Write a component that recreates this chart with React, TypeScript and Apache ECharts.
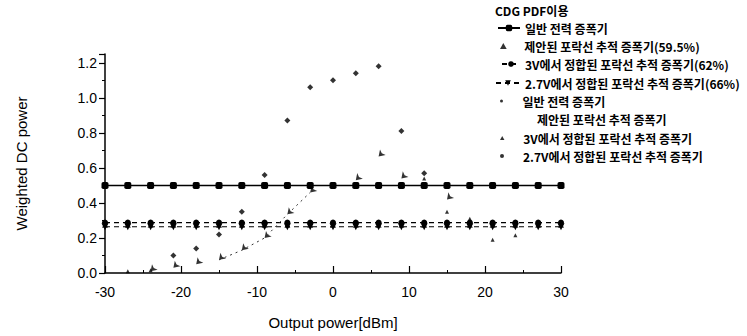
import React, { useEffect, useRef } from "react";
import * as echarts from "echarts";

const xSteps = [-30, -27, -24, -21, -18, -15, -12, -9, -6, -3, 0, 3, 6, 9, 12, 15, 18, 21, 24, 27, 30];
const generalLine = [0.5, 0.5, 0.5, 0.5, 0.5, 0.5, 0.5, 0.5, 0.5, 0.5, 0.5, 0.5, 0.5, 0.5, 0.5, 0.5, 0.5, 0.5, 0.5, 0.5, 0.5];
const proposedLine = [0.276, 0.276, 0.276, 0.276, 0.276, 0.276, 0.276, 0.276, 0.276, 0.276, 0.276, 0.276, 0.276, 0.276, 0.276, 0.276, 0.276, 0.276, 0.276, 0.276, 0.276];
const v3Line = [0.288, 0.288, 0.288, 0.288, 0.288, 0.288, 0.288, 0.288, 0.288, 0.288, 0.288, 0.288, 0.288, 0.288, 0.288, 0.288, 0.288, 0.288, 0.288, 0.288, 0.288];
const v27Line = [0.264, 0.264, 0.264, 0.264, 0.264, 0.264, 0.264, 0.264, 0.264, 0.264, 0.264, 0.264, 0.264, 0.264, 0.264, 0.264, 0.264, 0.264, 0.264, 0.264, 0.264];

const generalScatterX = [-21, -18, -15, -12, -9, -6, -3, 0, 3, 6, 9, 12];
const generalScatterY = [0.1, 0.14, 0.22, 0.35, 0.56, 0.87, 1.06, 1.1, 1.14, 1.18, 0.81, 0.57];
const proposedTrailX = [-15, -12, -9, -6, -3];
const proposedTrailY = [0.075, 0.13, 0.2, 0.335, 0.46];
const v3ScatterX = [-27, -24, 12, 15, 18, 21, 24];
const v3ScatterY = [0.01, 0.015, 0.54, 0.35, 0.31, 0.19, 0.215];
const v27ScatterX = [-24, -21, -18, -15, -12, -9, -6, -3, 3, 6, 9, 15];
const v27ScatterY = [0.01, 0.03, 0.05, 0.075, 0.13, 0.2, 0.335, 0.46, 0.53, 0.665, 0.54, 0.42];

const legendTitle = "CDG PDF이용";
const names = [
  "일반 전력 증폭기",
  "제안된 포락선 추적 증폭기(59.5%)",
  "3V에서 정합된 포락선 추적 증폭기(62%)",
  "2.7V에서 정합된 포락선 추적 증폭기(66%)",
  "일반 전력 증폭기 ",
  "제안된 포락선 추적 증폭기 ",
  "3V에서 정합된 포락선 추적 증폭기 ",
  "2.7V에서 정합된 포락선 추적 증폭기 ",
];

const pair = (xs: number[], ys: number[]) => xs.map((x, i) => [x, ys[i]]);

export default function App() {
  const ref = useRef<HTMLDivElement>(null);
  useEffect(() => {
    if (!ref.current) return;
    const chart = echarts.init(ref.current, null, { renderer: "svg" });
    const latin = "Arial, 'Liberation Sans', sans-serif";
    const kr = "'Noto Sans CJK KR', sans-serif";
    const textStyle = { fontSize: 12, fontWeight: "bold", fontFamily: kr, color: "#000" };
    const triIcon = "path://M5,0L10,9L0,9Z";
    const dotIcon = "path://M5,0A5,5 0 1,1 5,10A5,5 0 1,1 5,0Z";
    const centers = [30, 48, 66, 85, 103, 121, 140, 158];
    const legendSpec = [
      { w: 22, h: 8, dx: 0 },
      { w: 32, h: 6, dx: 13, icon: triIcon },
      { w: 18, h: 7, dx: 0 },
      { w: 24, h: 7, dx: 0 },
      { w: 32, h: 3, dx: 13, icon: dotIcon },
      { w: 32, h: 3, dx: 13, icon: "rect", hidden: true },
      { w: 32, h: 4, dx: 13, icon: triIcon },
      { w: 32, h: 4, dx: 13, icon: dotIcon },
    ];
    const legends = legendSpec.map((s, i) => {
      const item: any = { name: names[i] };
      if (s.icon) item.icon = s.icon;
      if (s.hidden) item.itemStyle = { opacity: 0 };
      return {
        show: true,
        orient: "vertical",
        left: 524 - 5 - s.w + s.dx,
        top: centers[i] - 8,
        padding: 0,
        itemWidth: s.w,
        itemHeight: s.h,
        itemGap: 0,
        symbolKeepAspect: true,
        formatter: (n: string) => n.trim(),
        textStyle,
        data: [item],
      };
    });
    chart.setOption({
      animation: false,
      backgroundColor: "#ffffff",
      graphic: [
        {
          type: "text",
          left: 495,
          top: 4,
          style: { text: legendTitle, fontSize: 12, fontWeight: "bold", fontFamily: kr, fill: "#000" },
        },
      ],
      legend: legends,
      grid: { left: 105, right: 186, top: 54, bottom: 63, containLabel: false },
      xAxis: {
        type: "value",
        min: -30,
        max: 30,
        interval: 10,
        name: "Output power[dBm]",
        nameLocation: "middle",
        nameGap: 42,
        nameTextStyle: { fontSize: 15, fontFamily: latin, color: "#000" },
        axisLine: { onZero: false, lineStyle: { color: "#000", width: 1.5 } },
        axisTick: { inside: true, length: 7, lineStyle: { color: "#000", width: 1.2 } },
        minorTick: { show: true, splitNumber: 2, length: 3, lineStyle: { color: "#000" } },
        axisLabel: { fontSize: 14, fontFamily: latin, color: "#000", margin: 12 },
        splitLine: { show: false },
      },
      yAxis: {
        type: "value",
        min: 0,
        max: 1.25,
        interval: 0.2,
        name: "Weighted DC power",
        nameLocation: "middle",
        nameGap: 76,
        nameRotate: 90,
        nameTextStyle: { fontSize: 15, fontFamily: latin, color: "#000" },
        axisLine: { show: true, onZero: false, lineStyle: { color: "#000", width: 1.5 } },
        axisTick: { show: true, length: 6, lineStyle: { color: "#000", width: 1.2 } },
        minorTick: { show: true, splitNumber: 2, length: 3, lineStyle: { color: "#000" } },
        axisLabel: {
          fontSize: 14,
          fontFamily: latin,
          color: "#000",
          margin: 8,
          formatter: (v: number) => (Math.abs(v - 1.25) < 1e-6 ? "" : v.toFixed(1)),
        },
        splitLine: { show: false },
      },
      series: [
        {
          name: names[0],
          type: "line",
          data: pair(xSteps, generalLine),
          symbol: "roundRect",
          symbolSize: 7,
          itemStyle: { color: "#000" },
          lineStyle: { color: "#000", width: 1.5 },
        },
        {
          name: names[1],
          type: "scatter",
          data: pair(xSteps, proposedLine),
          symbol: "triangle",
          symbolSize: 6,
          itemStyle: { color: "#000" },
        },
        {
          name: names[2],
          type: "line",
          data: pair(xSteps, v3Line),
          symbol: "circle",
          symbolSize: 6,
          itemStyle: { color: "#000" },
          lineStyle: { color: "#000", width: 1.2, type: [5, 4] },
        },
        {
          name: names[3],
          type: "line",
          data: pair(xSteps, v27Line),
          symbol: "triangle",
          symbolRotate: 180,
          symbolSize: 7,
          itemStyle: { color: "#000" },
          lineStyle: { color: "#000", width: 1.2, type: [5, 4] },
        },
        {
          name: names[4],
          type: "scatter",
          data: pair(generalScatterX, generalScatterY),
          symbol: "diamond",
          symbolSize: 6,
          itemStyle: { color: "#000" },
        },
        {
          name: names[5],
          type: "line",
          data: pair(proposedTrailX, proposedTrailY),
          symbol: "none",
          itemStyle: { color: "#000" },
          lineStyle: { color: "#333", width: 1, type: [2, 4] },
        },
        {
          name: names[6],
          type: "scatter",
          data: pair(v3ScatterX, v3ScatterY),
          symbol: "triangle",
          symbolSize: 4,
          itemStyle: { color: "#000" },
        },
        {
          name: names[7],
          type: "scatter",
          data: pair(v27ScatterX, v27ScatterY),
          symbol: "arrow",
          symbolRotate: 135,
          symbolSize: 6,
          itemStyle: { color: "#000" },
        },
      ],
    });
    return () => chart.dispose();
  }, []);
  return <div ref={ref} style={{ width: 747, height: 336, position: "absolute", left: 0, top: 0 }} />;
}
